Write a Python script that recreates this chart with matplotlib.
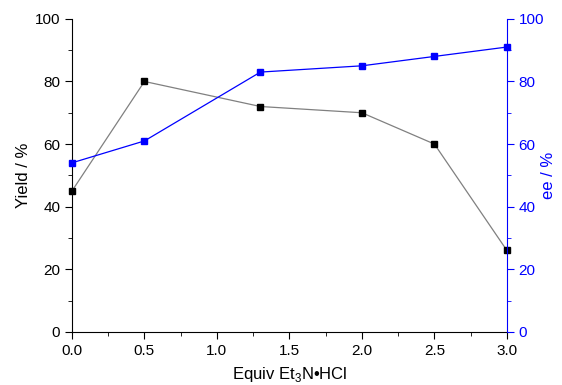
import matplotlib
matplotlib.use("Agg")
import matplotlib.pyplot as plt
from matplotlib.ticker import MultipleLocator

plt.rcParams['font.family'] = ['Liberation Sans', 'DejaVu Sans']
plt.rcParams['mathtext.fontset'] = 'custom'
plt.rcParams['mathtext.rm'] = 'Liberation Sans'

equiv = [0.0, 0.5, 1.3, 2.0, 2.5, 3.0]
yield_pct = [45, 80, 72, 70, 60, 26]
ee_pct = [54, 61, 83, 85, 88, 91]

fig = plt.figure(figsize=(5.62, 3.85), dpi=100)
ax = fig.add_axes([0.128, 0.138, 0.774, 0.813])
ax2 = ax.twinx()

ax.plot(equiv, yield_pct, color='#808080', lw=0.9, marker='s', ms=5,
        mfc='black', mec='black', zorder=3, clip_on=False)
ax2.plot(equiv, ee_pct, color='blue', lw=0.9, marker='s', ms=5,
         mfc='blue', mec='blue', zorder=3, clip_on=False)

for a in (ax, ax2):
    a.set_xlim(0, 3.0)
    a.set_ylim(0, 100)
    a.spines['top'].set_visible(False)

ax.spines['right'].set_visible(False)
ax2.spines['left'].set_visible(False)
ax2.spines['bottom'].set_visible(False)
ax2.spines['right'].set_color('blue')

ax.xaxis.set_major_locator(MultipleLocator(0.5))
ax.xaxis.set_minor_locator(MultipleLocator(0.25))
ax.yaxis.set_major_locator(MultipleLocator(20))
ax.yaxis.set_minor_locator(MultipleLocator(10))
ax2.yaxis.set_major_locator(MultipleLocator(20))
ax2.yaxis.set_minor_locator(MultipleLocator(10))

ax.tick_params(which='major', direction='out', length=5, labelsize=11, color='black')
ax.tick_params(which='minor', direction='out', length=3, color='black')
ax2.tick_params(which='major', direction='out', length=5, labelsize=11,
                color='blue', labelcolor='blue')
ax2.tick_params(which='minor', direction='out', length=3, color='blue')
ax.xaxis.set_major_formatter(matplotlib.ticker.FormatStrFormatter('%.1f'))

ax.set_xlabel('Equiv Et$_3$N•HCl', fontsize=12)
ax.set_ylabel('Yield / %', fontsize=12)
ax2.set_ylabel('ee / %', fontsize=12, color='blue', rotation=90)
ax.xaxis.set_label_coords(0.5, -0.107)
ax.yaxis.set_label_coords(-0.095, 0.5)
ax2.yaxis.set_label_coords(1.078, 0.5)

fig.savefig('out.png', dpi=100)
